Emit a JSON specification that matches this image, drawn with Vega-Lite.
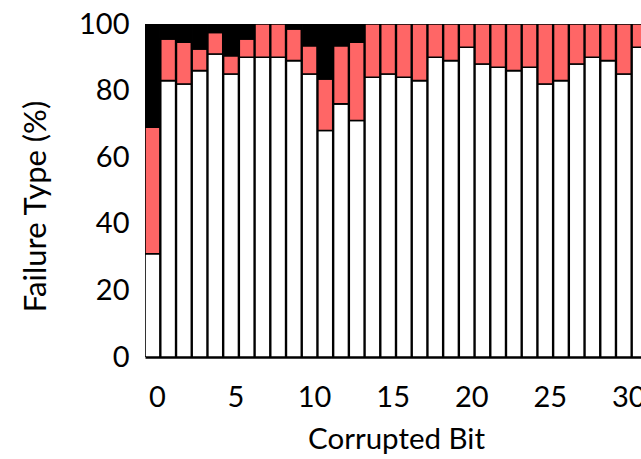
{
  "$schema": "https://vega.github.io/schema/vega-lite/v6.json",
  "width": 496,
  "height": 333,
  "autosize": "none",
  "padding": {"left": 145, "top": 24, "right": 0, "bottom": 102},
  "background": "white",
  "config": {
    "view": {"stroke": null},
    "font": "Lato",
    "axis": {"labelColor": "black", "titleColor": "black", "titleFontWeight": "normal", "grid": false}
  },
  "data": {
    "values": [
      {"bit": 0, "type": "Benign", "pct": 31}, {"bit": 0, "type": "Crash", "pct": 38}, {"bit": 0, "type": "Hang", "pct": 31},
      {"bit": 1, "type": "Benign", "pct": 83}, {"bit": 1, "type": "Crash", "pct": 12.5}, {"bit": 1, "type": "Hang", "pct": 4.5},
      {"bit": 2, "type": "Benign", "pct": 82}, {"bit": 2, "type": "Crash", "pct": 12.5}, {"bit": 2, "type": "Hang", "pct": 5.5},
      {"bit": 3, "type": "Benign", "pct": 86}, {"bit": 3, "type": "Crash", "pct": 6.5}, {"bit": 3, "type": "Hang", "pct": 7.5},
      {"bit": 4, "type": "Benign", "pct": 91}, {"bit": 4, "type": "Crash", "pct": 6.5}, {"bit": 4, "type": "Hang", "pct": 2.5},
      {"bit": 5, "type": "Benign", "pct": 85}, {"bit": 5, "type": "Crash", "pct": 5.5}, {"bit": 5, "type": "Hang", "pct": 9.5},
      {"bit": 6, "type": "Benign", "pct": 90}, {"bit": 6, "type": "Crash", "pct": 5.5}, {"bit": 6, "type": "Hang", "pct": 4.5},
      {"bit": 7, "type": "Benign", "pct": 90}, {"bit": 7, "type": "Crash", "pct": 10},
      {"bit": 8, "type": "Benign", "pct": 90}, {"bit": 8, "type": "Crash", "pct": 10},
      {"bit": 9, "type": "Benign", "pct": 89}, {"bit": 9, "type": "Crash", "pct": 9.5}, {"bit": 9, "type": "Hang", "pct": 1.5},
      {"bit": 10, "type": "Benign", "pct": 85}, {"bit": 10, "type": "Crash", "pct": 8.5}, {"bit": 10, "type": "Hang", "pct": 6.5},
      {"bit": 11, "type": "Benign", "pct": 68}, {"bit": 11, "type": "Crash", "pct": 15.5}, {"bit": 11, "type": "Hang", "pct": 16.5},
      {"bit": 12, "type": "Benign", "pct": 76}, {"bit": 12, "type": "Crash", "pct": 17.5}, {"bit": 12, "type": "Hang", "pct": 6.5},
      {"bit": 13, "type": "Benign", "pct": 71}, {"bit": 13, "type": "Crash", "pct": 23.5}, {"bit": 13, "type": "Hang", "pct": 5.5},
      {"bit": 14, "type": "Benign", "pct": 84}, {"bit": 14, "type": "Crash", "pct": 16},
      {"bit": 15, "type": "Benign", "pct": 85}, {"bit": 15, "type": "Crash", "pct": 15},
      {"bit": 16, "type": "Benign", "pct": 84}, {"bit": 16, "type": "Crash", "pct": 16},
      {"bit": 17, "type": "Benign", "pct": 83}, {"bit": 17, "type": "Crash", "pct": 17},
      {"bit": 18, "type": "Benign", "pct": 90}, {"bit": 18, "type": "Crash", "pct": 10},
      {"bit": 19, "type": "Benign", "pct": 89}, {"bit": 19, "type": "Crash", "pct": 11},
      {"bit": 20, "type": "Benign", "pct": 93}, {"bit": 20, "type": "Crash", "pct": 7},
      {"bit": 21, "type": "Benign", "pct": 88}, {"bit": 21, "type": "Crash", "pct": 12},
      {"bit": 22, "type": "Benign", "pct": 87}, {"bit": 22, "type": "Crash", "pct": 13},
      {"bit": 23, "type": "Benign", "pct": 86}, {"bit": 23, "type": "Crash", "pct": 14},
      {"bit": 24, "type": "Benign", "pct": 87}, {"bit": 24, "type": "Crash", "pct": 13},
      {"bit": 25, "type": "Benign", "pct": 82}, {"bit": 25, "type": "Crash", "pct": 18},
      {"bit": 26, "type": "Benign", "pct": 83}, {"bit": 26, "type": "Crash", "pct": 17},
      {"bit": 27, "type": "Benign", "pct": 88}, {"bit": 27, "type": "Crash", "pct": 12},
      {"bit": 28, "type": "Benign", "pct": 90}, {"bit": 28, "type": "Crash", "pct": 10},
      {"bit": 29, "type": "Benign", "pct": 89}, {"bit": 29, "type": "Crash", "pct": 11},
      {"bit": 30, "type": "Benign", "pct": 85}, {"bit": 30, "type": "Crash", "pct": 15},
      {"bit": 31, "type": "Benign", "pct": 93}, {"bit": 31, "type": "Crash", "pct": 7}
    ]
  },
  "mark": {"type": "bar", "stroke": "black", "strokeWidth": 1.6, "clip": true},
  "encoding": {
    "x": {
      "field": "bit",
      "type": "ordinal",
      "scale": {"range": [0, 502], "paddingInner": 0.05, "paddingOuter": 0},
      "axis": {
        "title": "Corrupted Bit",
        "titleFontSize": 29.5,
        "titlePadding": 13,
        "values": [0, 5, 10, 15, 20, 25, 30],
        "labelAngle": 0,
        "labelFontSize": 29,
        "labelPadding": 26,
        "labelOffset": 5,
        "ticks": false,
        "domain": true,
        "domainColor": "black",
        "domainWidth": 2.5
      }
    },
    "y": {
      "field": "pct",
      "type": "quantitative",
      "stack": "zero",
      "scale": {"domain": [0, 100], "nice": false},
      "axis": {
        "title": "Failure Type (%)",
        "titleFontSize": 31,
        "titlePadding": 26,
        "titleY": 182,
        "values": [0, 20, 40, 60, 80, 100],
        "labelFontSize": 29,
        "labelPadding": 16,
        "ticks": false,
        "domain": false
      }
    },
    "color": {
      "field": "type",
      "type": "nominal",
      "scale": {"domain": ["Benign", "Crash", "Hang"], "range": ["white", "#ff6666", "black"]},
      "legend": null
    },
    "order": {"field": "type", "sort": "ascending"}
  }
}
